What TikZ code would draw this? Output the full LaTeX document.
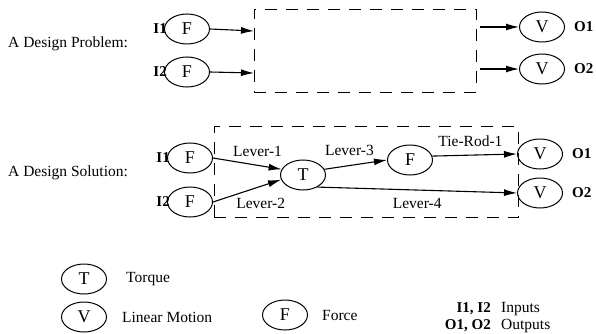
\documentclass[tikz,border=0pt]{standalone}
\usepackage{fontspec}
\setmainfont{Liberation Serif}
\usetikzlibrary{shapes.geometric,arrows.meta}
\begin{document}
\begin{tikzpicture}[x=1pt,y=-1pt,
  st/.style={draw, ellipse, line width=1pt, minimum width=45pt, minimum height=30pt, inner sep=0pt, font=\fontsize{18}{20}\selectfont},
  lbl/.style={font=\fontsize{15.5}{17}\selectfont, inner sep=0pt},
  io/.style={font=\bfseries\fontsize{15}{17}\selectfont, inner sep=0pt},
  arr/.style={-{Latex[length=13pt,width=7pt]}, line width=1.1pt},
  box/.style={draw, line width=0.9pt, dash pattern=on 12pt off 9pt}
]
\useasboundingbox (0,0) rectangle (596,334);

% ---------- A Design Problem ----------
\node[lbl, anchor=west] (tp) at (8,44) {A Design Problem:};
\node[st] (pf1) at (187,29) {F};
\node[st] (pf2) at (187,72) {F};
\node[io, anchor=east] (pi1) at (167,29) {I1};
\node[io, anchor=east] (pi2) at (167,72) {I2};
\node[box, minimum width=222pt, minimum height=83pt, inner sep=0pt] (pbox) at (365,50.5) {};
\coordinate (pin1) at (254,31);
\coordinate (pin2) at (254,73);
\coordinate (pout1) at (480,27);
\coordinate (pout2) at (480,69);
\node[st] (pv1) at (542,27) {V};
\node[st] (pv2) at (542,69) {V};
\node[io, anchor=west] (po1) at (574,27) {O1};
\node[io, anchor=west] (po2) at (574,69) {O2};
\draw[arr] (pf1.east) -- (pin1);
\draw[arr] (pf2.east) -- (pin2);
\draw[arr] (pout1) -- (pv1.west);
\draw[arr] (pout2) -- (pv2.west);

% ---------- A Design Solution ----------
\node[lbl, anchor=west] (ts) at (8,173) {A Design Solution:};
\node[box, minimum width=304pt, minimum height=91pt, inner sep=0pt] (sbox) at (366,172) {};
\node[st] (sf1) at (190,158) {F};
\node[st] (sf2) at (190,202) {F};
\node[io, anchor=east] (si1) at (170,158) {I1};
\node[io, anchor=east] (si2) at (170,202) {I2};
\node[st] (tq) at (303,175) {T};
\node[st] (sf3) at (410,160) {F};
\node[st] (sv1) at (540,154) {V};
\node[st] (sv2) at (540,193) {V};
\node[io, anchor=west] (so1) at (572,154) {O1};
\node[io, anchor=west] (so2) at (572,193) {O2};
\draw[arr] (sf1.east) -- (tq.165) node[lbl, pos=0.65, above=8pt] (l1) {Lever-1};
\draw[arr] (sf2.east) -- (tq.192) node[lbl, pos=0.7, below=11pt] (l2) {Lever-2};
\draw[arr] (tq.15) -- (sf3.west) node[lbl, pos=0.4, above=9pt] (l3) {Lever-3};
\draw[arr] (sf3.10) -- (sv1.west) node[lbl, pos=0.45, above=8pt] (l5) {Tie-Rod-1};
\draw[arr] (tq.320) -- (sv2.west) node[lbl, pos=0.5, below=8pt] (l4) {Lever-4};

% ---------- Legend ----------
\node[st] (lt) at (84,279) {T};
\node[lbl, anchor=west] (ltt) at (126,279) {Torque};
\node[st] (lv) at (84,317) {V};
\node[lbl, anchor=west] (lvt) at (122,317) {Linear Motion};
\node[st] (lf) at (285,315) {F};
\node[lbl, anchor=west] (lft) at (322,315) {Force};
\node[io, anchor=east] (lin) at (491,309) {I1, I2};
\node[lbl, anchor=west] (lint) at (501,309) {Inputs};
\node[io, anchor=east] (lout) at (491,326) {O1, O2};
\node[lbl, anchor=west] (loutt) at (501,326) {Outputs};
\end{tikzpicture}
\end{document}
